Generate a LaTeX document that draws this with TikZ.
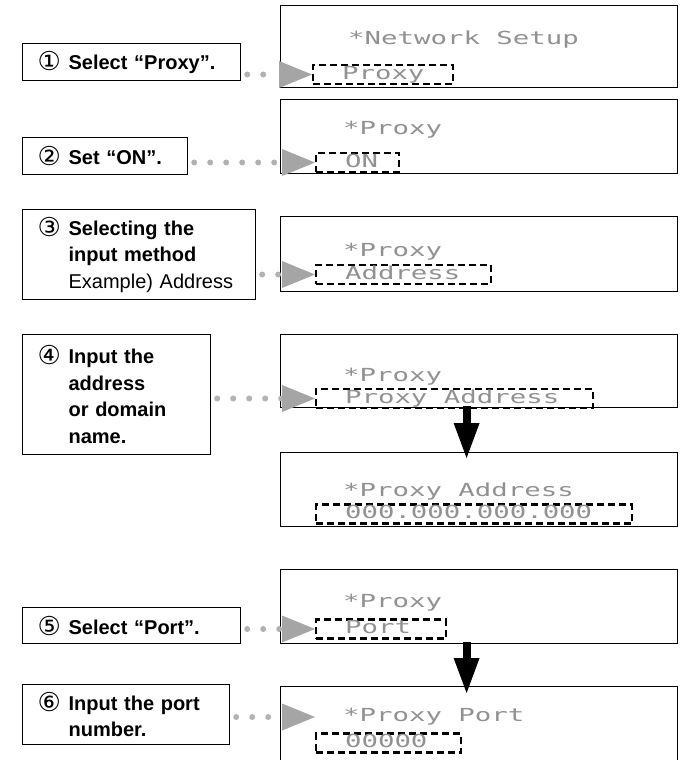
\documentclass[tikz,border=0pt]{standalone}
\usepackage{fontspec}
\setmainfont{Liberation Sans}
\newfontfamily\numfont{DejaVu Sans}
\newfontfamily\lcdfont[FakeStretch=1.52]{DejaVu Sans Mono}
\definecolor{dotgray}{RGB}{178,178,178}
\definecolor{tipgray}{RGB}{165,165,165}
\definecolor{lcdgray}{RGB}{145,145,145}
\usetikzlibrary{arrows.meta, positioning}
\newcommand\stepno[1]{\makebox[31pt][l]{\raisebox{-1pt}{\numfont\fontsize{26}{20}\selectfont #1}}}

\tikzset{
  stepbox/.style={draw, line width=1.2pt, anchor=north west, align=left, inner xsep=15pt, inner ysep=0pt, font=\fontsize{20}{26.5}\selectfont},
  screen/.style={draw, line width=1.2pt, anchor=north west, minimum width=397pt, inner sep=0pt},
  lcdline/.style={anchor=west, inner sep=0pt, text=lcdgray, font=\lcdfont\fontsize{18}{20}\selectfont},
  cursor/.style={draw, line width=2.2pt, dash pattern=on 7pt off 4pt, anchor=west, inner xsep=29pt, inner ysep=2pt, text height=12pt, text depth=3pt, text=lcdgray, font=\lcdfont\fontsize{18}{20}\selectfont},
  dotline/.style={draw=dotgray, line width=6pt, line cap=round, dash pattern=on 0pt off 16pt, shorten <=6pt, -{Triangle[length=33pt, width=27pt, line width=0pt, color=tipgray]}},
  downarrow/.style={line width=8pt, -{Triangle[length=35pt, width=26pt, line width=0pt]}}
}

\begin{document}
\begin{tikzpicture}[x=1pt, y=-1pt]
  \useasboundingbox (0,0) rectangle (684,760);

  \node[stepbox, text width=188pt, minimum height=37pt] (lbl1) at (22,43) {\stepno{①}\textbf{Select “Proxy”.}};
  \node[stepbox, text width=135pt, minimum height=37pt] (lbl2) at (22,137) {\stepno{②}\textbf{Set “ON”.}};
  \node[stepbox, text width=203pt, minimum height=90pt] (lbl3) at (22,209) {\stepno{③}\textbf{Selecting the}\\\hspace*{31pt}\textbf{input method}\\\hspace*{31pt}Example) Address};
  \node[stepbox, text width=158pt, minimum height=120pt] (lbl4) at (22,334) {\stepno{④}\textbf{Input the}\\\hspace*{31pt}\textbf{address}\\\hspace*{31pt}\textbf{or domain}\\\hspace*{31pt}\textbf{name.}};
  \node[stepbox, text width=188pt, minimum height=36pt] (lbl5) at (22,607) {\stepno{⑤}\textbf{Select “Port”.}};
  \node[stepbox, text width=177pt, minimum height=60pt] (lbl6) at (22,684) {\stepno{⑥}\textbf{Input the port}\\\hspace*{31pt}\textbf{number.}};

  \node[screen, minimum height=82pt] (s1) at (280,5) {};
  \node[screen, minimum height=74pt] (s2) at (280,99) {};
  \node[screen, minimum height=75pt] (s3) at (280,216) {};
  \node[screen, minimum height=73pt] (s4) at (280,334) {};
  \node[screen, minimum height=74pt] (s5) at (280,452) {};
  \node[screen, minimum height=74pt] (s6) at (280,569) {};
  \node[screen, minimum height=100pt] (s7) at (280,686) {};

  \node[lcdline] (h1) at (348,40) {*Network Setup};
  \node[lcdline] (h2) at (343,130) {*Proxy};
  \node[lcdline] (h3) at (343,252) {*Proxy};
  \node[lcdline] (h4) at (343,377) {*Proxy};
  \node[lcdline] (h5) at (343,492) {*Proxy Address};
  \node[lcdline] (h6) at (343,603) {*Proxy};
  \node[lcdline] (h7) at (343,717) {*Proxy Port};

  \node[cursor] (c1) at (312,74.5) {\makebox[82pt][l]{Proxy}};
  \node[cursor] (c2) at (315,162.5) {\makebox[25pt][l]{ON}};
  \node[cursor] (c3) at (315,274.5) {\makebox[117pt][l]{Address}};
  \node[cursor] (c4) at (315,398.5) {\makebox[219pt][l]{Proxy Address}};
  \node[cursor] (c5) at (315,514) {\makebox[258pt][l]{000.000.000.000}};
  \node[cursor] (c6) at (315,629) {\makebox[72pt][l]{Port}};
  \node[cursor] (c7) at (315,743) {\makebox[87pt][l]{00000}};

  \draw[dotline] (lbl1.east |- c1.west) -- (c1.west);
  \draw[dotline] (lbl2.east |- c2.west) -- (c2.west);
  \draw[dotline] (lbl3.east |- c3.west) -- (c3.west);
  \draw[dotline] (lbl4.east |- c4.west) -- (c4.west);
  \draw[dotline] (lbl5.east |- c6.west) -- (c6.west);
  \draw[dotline] (lbl6.east |- h7.west) -- (c7.west |- h7.west);

  \draw[downarrow] ([xshift=-12.5pt, yshift=2pt]s4.south) -- ([xshift=-12.5pt, yshift=-6pt]s5.north);
  \draw[downarrow] ([xshift=-12.5pt, yshift=2pt]s6.south) -- ([xshift=-12.5pt, yshift=-7pt]s7.north);
\end{tikzpicture}
\end{document}
